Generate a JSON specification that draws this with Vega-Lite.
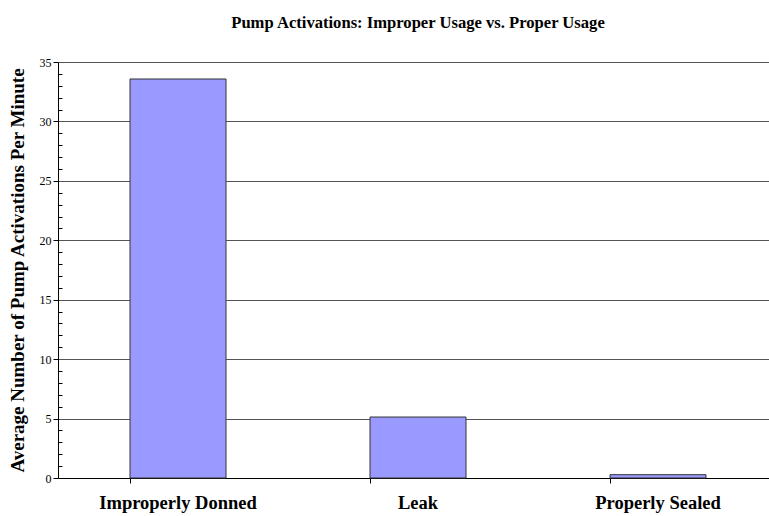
{
  "$schema": "https://vega.github.io/schema/vega-lite/v6.json",
  "autosize": "none",
  "width": 720,
  "height": 416,
  "padding": {"left": 58, "top": 62, "right": 0, "bottom": 38},
  "background": "white",
  "title": {
    "text": "Pump Activations: Improper Usage vs. Proper Usage",
    "font": "Liberation Serif",
    "fontSize": 16.6,
    "fontWeight": "bold",
    "color": "#000",
    "anchor": "middle",
    "offset": 24
  },
  "config": {
    "view": {"stroke": null},
    "font": "Liberation Serif"
  },
  "data": {
    "values": [
      {"category": "Improperly Donned", "value": 33.57},
      {"category": "Leak", "value": 5.13},
      {"category": "Properly Sealed", "value": 0.28}
    ]
  },
  "mark": {"type": "bar", "color": "#9999ff", "stroke": "#333", "strokeWidth": 1},
  "encoding": {
    "x": {
      "field": "category",
      "type": "nominal",
      "sort": null,
      "scale": {"paddingInner": 0.6, "paddingOuter": 0.3},
      "axis": {
        "title": null,
        "labelAngle": 0,
        "labelFont": "Liberation Serif",
        "labelFontSize": 18.5,
        "labelFontWeight": "bold",
        "labelColor": "#000",
        "labelPadding": 10,
        "bandPosition": 0,
        "ticks": true,
        "tickSize": 5,
        "tickColor": "#000",
        "domainColor": "#000",
        "domainWidth": 1,
        "grid": false
      }
    },
    "y": {
      "field": "value",
      "type": "quantitative",
      "scale": {"domain": [0, 35], "nice": false},
      "axis": {
        "title": "Average Number of Pump Activations Per Minute",
        "titleFont": "Liberation Serif",
        "titleFontSize": 19,
        "titleFontWeight": "bold",
        "titleColor": "#000",
        "titlePadding": 12,
        "values": [0,1,2,3,4,5,6,7,8,9,10,11,12,13,14,15,16,17,18,19,20,21,22,23,24,25,26,27,28,29,30,31,32,33,34,35],
        "labelExpr": "datum.value % 5 === 0 ? datum.label : ''",
        "labelFont": "Liberation Serif",
        "labelFontSize": 12,
        "labelColor": "#000",
        "labelPadding": 2,
        "tickSize": {"condition": {"test": "datum.value % 5 === 0", "value": 5}, "value": -4},
        "tickColor": "#000",
        "domainColor": "#000",
        "grid": true,
        "gridColor": "#555",
        "gridOpacity": {"condition": {"test": "datum.value % 5 === 0", "value": 1}, "value": 0},
        "gridWidth": 1,
        "zindex": 0
      }
    }
  }
}
